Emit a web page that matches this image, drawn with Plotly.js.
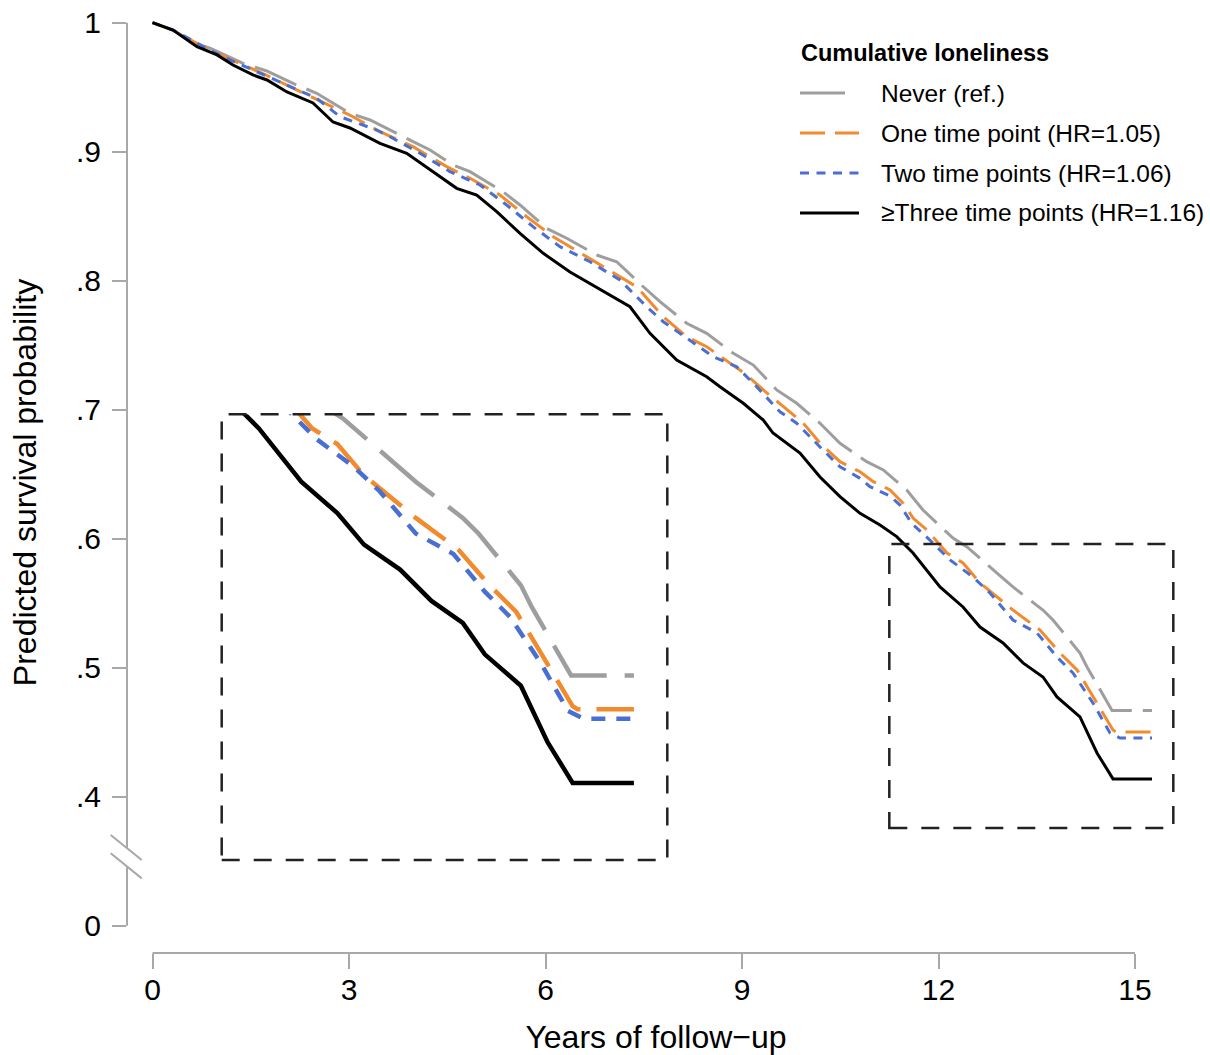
<!DOCTYPE html>
<html>
<head>
<meta charset="utf-8">
<script src="https://cdn.plot.ly/plotly-3.0.1.min.js"></script>
<style>html,body{margin:0;padding:0;background:#fff;}#chart{width:1210px;height:1055px;}</style>
</head>
<body>
<div id="chart"></div>
<script>
// ---- Data ----
const neverX = [0,0.313,0.679,0.878,1.382,1.744,2.202,2.507,3.015,3.321,3.779,4.237,4.588,4.847,5.351,5.611,6.018,6.324,6.782,7.087,7.493,7.748,8.156,8.461,8.867,9.173,9.530,9.835,10.191,10.496,10.904,11.157,11.515,11.763,12.221,12.435,12.893,13.137,13.595,13.748,14.160,14.267,14.649,15.260];
const neverY = [1,0.9943,0.9835,0.9802,0.9685,0.9626,0.9517,0.9453,0.9298,0.9246,0.9129,0.9013,0.8897,0.8845,0.8690,0.8587,0.8406,0.8329,0.8199,0.8147,0.7953,0.7837,0.7670,0.7592,0.7437,0.7346,0.7153,0.7050,0.6895,0.6740,0.6597,0.6533,0.6378,0.6222,0.6005,0.5936,0.5734,0.5626,0.5447,0.5370,0.5114,0.5006,0.4669,0.4669];

const oneX = [0,0.313,0.675,1.153,1.641,2.099,2.583,3.061,3.473,3.977,4.492,4.847,5.305,5.713,6.119,6.629,6.985,7.392,7.595,7.798,8.156,8.461,8.714,9.072,9.325,9.631,9.936,10.191,10.496,10.802,11.005,11.260,11.463,11.615,11.824,12.130,12.374,12.634,13.137,13.550,13.855,14.115,14.359,14.664,14.710,15.260];
const oneY = [1,0.9943,0.9840,0.9724,0.9616,0.9504,0.9383,0.9271,0.9155,0.9039,0.8884,0.8794,0.8664,0.8496,0.8341,0.8186,0.8083,0.7953,0.7837,0.7721,0.7566,0.7488,0.7398,0.7269,0.7153,0.7023,0.6895,0.6742,0.6597,0.6519,0.6442,0.6378,0.6274,0.6158,0.6067,0.5889,0.5812,0.5657,0.5447,0.5292,0.5114,0.4983,0.4773,0.4517,0.4502,0.4502];

const twoX = [0,0.313,0.878,1.076,1.534,2.049,2.507,2.863,3.423,3.626,4.084,4.542,5.000,5.408,5.809,6.221,6.679,7.137,7.545,7.798,8.206,8.562,8.919,9.224,9.580,9.835,10.191,10.496,10.802,10.954,11.260,11.412,11.591,11.916,12.176,12.527,12.786,13.137,13.504,13.809,14.053,14.359,14.618,14.771,15.260];
const twoY = [1,0.9943,0.9788,0.9736,0.9633,0.9517,0.9414,0.9271,0.9168,0.9116,0.8988,0.8845,0.8742,0.8587,0.8419,0.8264,0.8147,0.8005,0.7798,0.7682,0.7540,0.7411,0.7333,0.7178,0.6984,0.6895,0.6711,0.6558,0.6468,0.6403,0.6331,0.6261,0.6119,0.5967,0.5835,0.5703,0.5579,0.5370,0.5269,0.5083,0.4959,0.4726,0.4494,0.4455,0.4455];

const threeX = [0,0.313,0.679,0.985,1.229,1.534,1.748,2.053,2.450,2.756,3.015,3.473,3.881,4.237,4.644,4.950,5.255,5.611,5.966,6.374,6.786,7.290,7.595,8.003,8.461,8.664,9.020,9.325,9.473,9.885,10.191,10.496,10.802,11.107,11.362,11.611,12.023,12.374,12.634,12.985,13.290,13.595,13.809,14.160,14.420,14.664,15.260];
const threeY = [1,0.9943,0.9814,0.9750,0.9672,0.9595,0.9556,0.9463,0.9378,0.9230,0.9184,0.9065,0.8988,0.8858,0.8716,0.8664,0.8535,0.8367,0.8212,0.8067,0.7943,0.7798,0.7592,0.7385,0.7256,0.7178,0.7050,0.6920,0.6819,0.6664,0.6478,0.6326,0.6197,0.6106,0.6016,0.5889,0.5626,0.5471,0.5315,0.5192,0.5037,0.4928,0.4773,0.4618,0.4339,0.4138,0.4138];

const seriesNames = ["Never (ref.)", "One time point (HR=1.05)", "Two time points (HR=1.06)", "\u2265Three time points (HR=1.16)"];
const legendTitle = "Cumulative loneliness";
const xTickVals = [0,3,6,9,12,15];
const yTickVals = [0.3,0.4,0.5,0.6,0.7,0.8,0.9,1];
const yTickText = ["0",".4",".5",".6",".7",".8",".9","1"];
const zoomX = [11.249, 15.585];
const zoomY = [0.3757, 0.5959];

// ---- Styles ----
const colors = ["#9e9e9e", "#f28a2e", "#4a6fd2", "#000000"];
const dashMain = ["45px,11px", "25px,10px", "9px,7.5px", "solid"];
const dashInset = ["70px,18px", "39px,16px", "14px,11px", "solid"];
const axisGray = "#a8a8a8";
const FONT = "Liberation Sans, Arial, Helvetica, sans-serif";

const W = 1210, H = 1055;
const M = {l: 127, r: 25, t: 12, b: 102};
const PW = W - M.l - M.r, PH = H - M.t - M.b;
const px2paperX = p => (p - M.l) / PW;
const px2paperY = p => (H - M.b - p) / PH;

const xs = [neverX, oneX, twoX, threeX];
const ys = [neverY, oneY, twoY, threeY];

const traces = [];
for (let i = 0; i < 4; i++) {
  traces.push({x: xs[i], y: ys[i], type: "scatter", mode: "lines", name: seriesNames[i],
    line: {color: colors[i], width: 3, dash: dashMain[i]}, showlegend: false, hoverinfo: "skip",
    xaxis: "x", yaxis: "y"});
}
for (let i = 0; i < 4; i++) {
  traces.push({x: xs[i], y: ys[i], type: "scatter", mode: "lines", name: seriesNames[i],
    line: {color: colors[i], width: 4.5, dash: dashInset[i]}, showlegend: false, hoverinfo: "skip",
    xaxis: "x2", yaxis: "y2"});
}

// inset domain (pixels of the enlarged box)
const insetDom = {x: [px2paperX(221.7), px2paperX(667.3)], y: [px2paperY(860), px2paperY(414.3)]};

const shapes = [
  {type: "line", xref: "x", yref: "paper", x0: 0, x1: 15, y0: 0, y1: 0, line: {color: axisGray, width: 2}},
  {type: "line", xref: "paper", yref: "y", x0: 0, x1: 0, y0: 1, y1: 0.3602, line: {color: axisGray, width: 2}},
  {type: "line", xref: "paper", yref: "y", x0: 0, x1: 0, y0: 0.3463, y1: 0.3, line: {color: axisGray, width: 2}},
  {type: "line", xref: "paper", yref: "y", x0: px2paperX(110.7), x1: px2paperX(141.7), y0: 0.3703, y1: 0.3510, line: {color: axisGray, width: 2}},
  {type: "line", xref: "paper", yref: "y", x0: px2paperX(110.7), x1: px2paperX(141.7), y0: 0.3562, y1: 0.3367, line: {color: axisGray, width: 2}},
  {type: "rect", xref: "x", yref: "y", x0: zoomX[0], x1: zoomX[1], y0: zoomY[0], y1: zoomY[1], line: {color: "#222", width: 2.5, dash: "18px,14px"}},
  {type: "rect", xref: "paper", yref: "paper", x0: insetDom.x[0], x1: insetDom.x[1], y0: insetDom.y[0], y1: insetDom.y[1], line: {color: "#222", width: 2.5, dash: "18px,14px"}}
];

const legRows = [93, 133, 173, 213];
const legEnds = [848, 859, 859, 859];
const annotations = [{
  text: "<b>" + legendTitle + "</b>", xref: "paper", yref: "paper", x: px2paperX(799), y: px2paperY(53),
  xanchor: "left", yanchor: "middle", showarrow: false, font: {size: 23.5, color: "#000", family: FONT}
}];
for (let i = 0; i < 4; i++) {
  shapes.push({type: "line", xref: "paper", yref: "paper", x0: px2paperX(800), x1: px2paperX(legEnds[i]),
    y0: px2paperY(legRows[i]), y1: px2paperY(legRows[i]), line: {color: colors[i], width: 3, dash: dashMain[i]}});
  annotations.push({text: seriesNames[i], xref: "paper", yref: "paper", x: px2paperX(879), y: px2paperY(legRows[i]),
    xanchor: "left", yanchor: "middle", showarrow: false, font: {size: 24.5, color: "#000", family: FONT}});
}

const layout = {
  width: W, height: H, margin: M, paper_bgcolor: "#fff", plot_bgcolor: "#fff",
  font: {family: FONT, color: "#000"},
  showlegend: false,
  xaxis: {range: [(M.l - 152.5) / 65.5, (W - M.r - 152.5) / 65.5], tickvals: xTickVals, ticks: "outside", ticklen: 15, tickwidth: 2,
    tickcolor: axisGray, showline: false, showgrid: false, zeroline: false, tickfont: {size: 30, color: "#000"}, ticklabelstandoff: -5,
    title: {text: "Years of follow\u2212up", font: {size: 32, color: "#000"}, standoff: 24}, automargin: false, fixedrange: true},
  yaxis: {range: [1 - (H - M.b - 22.7) / 1290, 1 + (22.7 - M.t) / 1290], tickvals: yTickVals, ticktext: yTickText, ticks: "outside", ticklen: 14, tickwidth: 2,
    tickcolor: axisGray, showline: false, showgrid: false, zeroline: false, tickfont: {size: 30, color: "#000"}, ticklabelstandoff: 5,
    title: {text: "Predicted survival probability", font: {size: 32, color: "#000"}, standoff: 29}, automargin: false, fixedrange: true},
  xaxis2: {domain: insetDom.x, anchor: "y2", range: zoomX, visible: false, fixedrange: true},
  yaxis2: {domain: insetDom.y, anchor: "x2", range: zoomY, visible: false, fixedrange: true},
  shapes: shapes,
  annotations: annotations
};

Plotly.newPlot("chart", traces, layout, {displayModeBar: false, staticPlot: true});
</script>
</body>
</html>
